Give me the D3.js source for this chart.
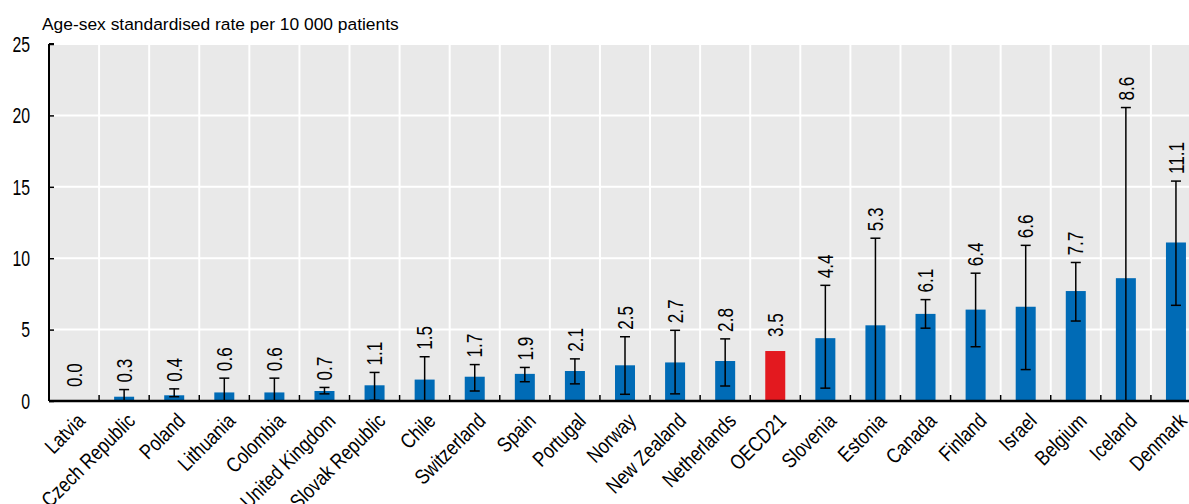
<!DOCTYPE html>
<html><head><meta charset="utf-8">
<script src="https://cdn.jsdelivr.net/npm/d3@7"></script>
<style>body{margin:0;background:#fff}svg{display:block}text{font-family:"Liberation Sans",Arial,sans-serif;fill:#000}</style>
</head><body><div id="c"></div>
<script>
const categories = ["Latvia","Czech Republic","Poland","Lithuania","Colombia","United Kingdom","Slovak Republic","Chile","Switzerland","Spain","Portugal","Norway","New Zealand","Netherlands","OECD21","Slovenia","Estonia","Canada","Finland","Israel","Belgium","Iceland","Denmark"];
const values = [0.0,0.3,0.4,0.6,0.6,0.7,1.1,1.5,1.7,1.9,2.1,2.5,2.7,2.8,3.5,4.4,5.3,6.1,6.4,6.6,7.7,8.6,11.1];
const errLow  = [null,0.0,0.3,0.0,0.0,0.5,0.05,0.0,0.7,1.35,1.2,0.47,0.5,1.05,null,0.9,0.0,5.1,3.8,2.2,5.6,0.0,6.7];
const errHigh = [null,0.8,0.85,1.6,1.6,0.95,2.0,3.1,2.55,2.35,2.95,4.5,4.95,4.35,null,8.1,11.4,7.1,8.95,10.9,9.7,20.55,15.4];
const yTicks = [0,5,10,15,20,25];
const yTitle = "Age-sex standardised rate per 10 000 patients";

const W = 1189, H = 504;
const m = {left:49, top:44, bottom:401, right:1201};
const svg = d3.select("#c").append("svg").attr("width",W).attr("height",H);
const x = d3.scaleBand().domain(categories).range([m.left, m.right]).paddingInner(0).paddingOuter(0);
const y = d3.scaleLinear().domain([0,25]).range([m.bottom, m.top]);
const bw = 20;

svg.append("rect").attr("x",m.left).attr("y",m.top).attr("width",m.right-m.left).attr("height",m.bottom-m.top).attr("fill","#e9e9e9");
svg.append("g").selectAll("line").data(yTicks.filter(d=>d>0)).join("line")
  .attr("x1",m.left).attr("x2",m.right).attr("y1",d=>y(d)).attr("y2",d=>y(d))
  .attr("stroke","#fff").attr("stroke-width",2);
svg.append("g").selectAll("line").data(categories.slice(1)).join("line")
  .attr("x1",d=>x(d)).attr("x2",d=>x(d)).attr("y1",m.top).attr("y2",m.bottom)
  .attr("stroke","#fff").attr("stroke-width",2);

svg.append("g").selectAll("rect").data(categories).join("rect")
  .attr("x",d=>x(d)+x.bandwidth()/2-bw/2).attr("width",bw)
  .attr("y",(d,i)=>y(values[i])).attr("height",(d,i)=>y(0)-y(values[i]))
  .attr("fill",d=>d==="OECD21"?"#e3191f":"#006bb6");

const eg = svg.append("g").attr("stroke","#000").attr("stroke-width",1.5);
categories.forEach((c,i)=>{
  if(errHigh[i]==null) return;
  const cx = x(c)+x.bandwidth()/2;
  eg.append("line").attr("x1",cx).attr("x2",cx).attr("y1",y(errLow[i])).attr("y2",y(errHigh[i]));
  eg.append("line").attr("x1",cx-5).attr("x2",cx+5).attr("y1",y(errHigh[i])).attr("y2",y(errHigh[i]));
  if(errLow[i]>0.02) eg.append("line").attr("x1",cx-5).attr("x2",cx+5).attr("y1",y(errLow[i])).attr("y2",y(errLow[i]));
});

// value labels (condensed look)
svg.append("g").selectAll("text").data(categories).join("text")
  .attr("transform",(d,i)=>{
    const cx = x(d)+x.bandwidth()/2;
    const top = errHigh[i]!=null ? y(errHigh[i])-7 : y(values[i])-14;
    return `translate(${cx},${top}) rotate(-90) scale(0.78,1)`;
  })
  .attr("dy","0.35em").attr("font-size",22).attr("text-anchor","start")
  .text((d,i)=>values[i].toFixed(1));

// y axis
const ya = svg.append("g").attr("transform",`translate(${m.left},0)`)
  .call(d3.axisLeft(y).tickValues(yTicks).tickSize(-5).tickFormat(""));
ya.select(".domain").attr("d",`M0,${m.top}H5M0,${m.top}V${m.bottom}`).attr("stroke","#000").attr("stroke-width",2);
ya.selectAll(".tick line").attr("stroke","#000").attr("stroke-width",1.5);
svg.append("g").selectAll("text").data(yTicks).join("text")
  .attr("transform",d=>`translate(30,${y(d)}) scale(0.72,1)`)
  .attr("text-anchor","end").attr("dy","0.35em").attr("font-size",22).text(d=>d);

// x axis
const xa = svg.append("g").attr("transform",`translate(0,${m.bottom})`);
xa.append("line").attr("x1",m.left).attr("x2",m.right).attr("stroke","#000").attr("stroke-width",2.5);
xa.selectAll("line.t").data(categories.slice(1)).join("line").attr("class","t")
  .attr("x1",d=>x(d)).attr("x2",d=>x(d)).attr("y1",0).attr("y2",-6).attr("stroke","#000").attr("stroke-width",1.5);
xa.selectAll("text").data(categories).join("text")
  .attr("transform",d=>`translate(${x(d)+x.bandwidth()/2+7},16) rotate(-45) scale(0.83,1)`)
  .attr("text-anchor","end").attr("dy","0.35em").attr("font-size",21).text(d=>d);

svg.append("text").attr("x",42).attr("y",30).attr("font-size",17.4).text(yTitle);
</script></body></html>
